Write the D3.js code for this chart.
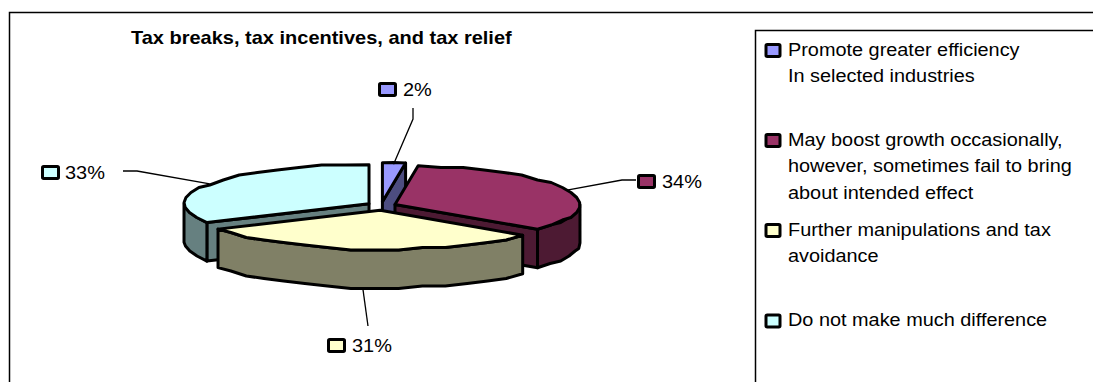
<!DOCTYPE html>
<html>
<head>
<meta charset="utf-8">
<script src="https://cdn.jsdelivr.net/npm/d3@7/dist/d3.min.js"></script>
<style>
html,body{margin:0;padding:0;background:#fff;}
svg{display:block;}
text{font-family:"Liberation Sans",Arial,sans-serif;fill:#000;}
</style>
</head>
<body>
<svg id="chart" width="1093" height="382"></svg>
<script>
// Survey shares, in percent, clockwise from twelve o'clock
const shares = [2, 34, 31, 33];
const fills = ["#9999FF", "#993366", "#FFFFCC", "#CCFFFF"];
const sideFills = ["#4D4D80", "#4D1A33", "#808066", "#668080"];
const legendLines = [
  ["Promote greater efficiency", "In selected industries"],
  ["May boost growth occasionally,", "however, sometimes fail to bring", "about intended effect"],
  ["Further manipulations and tax", "avoidance"],
  ["Do not make much difference"]
];
const chartTitle = "Tax breaks, tax incentives, and tax relief";

const width = 1093, height = 382;
const cx = 381.5, cy = 206, rx = 185, ry = 39, depth = 38.5, explode = 14.5, explodeTilt = 0.3;
const legendBaselines = [[55.5, 82], [145.5, 172, 199], [235.5, 262], [326]];
const labelLayout = [
  {sx: 378, sy: 82, tx: 403, ty: 96, elbow: [[413, 108], [413, 119]], anchorR: 0.96, anchorDy: 0},
  {sx: 637, sy: 174, tx: 662, ty: 188, elbow: [[636, 180], [622, 180]], anchorR: 1, anchorDy: 0},
  {sx: 327, sy: 338, tx: 352, ty: 352, elbow: [[368, 326]], anchorR: 1, anchorDy: depth},
  {sx: 41, sy: 165, tx: 65, ty: 179, elbow: [[123, 171], [137, 171]], anchorR: 1, anchorDy: 0}
];

const svg = d3.select("#chart");
const black = "#000";

// Outer chart frame and legend box run off the right and bottom edges
svg.append("path").attr("d", d3.line()([[9.5, height + 2], [9.5, 12.5], [width + 2, 12.5]]))
  .attr("fill", "none").attr("stroke", black).attr("stroke-width", 1.5);
svg.append("path").attr("d", d3.line()([[755.5, height + 2], [755.5, 30.5], [width + 2, 30.5]]))
  .attr("fill", "none").attr("stroke", black).attr("stroke-width", 1.5);

// Type is set a little wider than Liberation's natural width
function label(x, y, size, stretch, str, bold) {
  return svg.append("text")
    .attr("transform", `translate(${x},${y}) scale(${stretch},1)`)
    .attr("font-size", size).attr("font-weight", bold ? "bold" : "normal").text(str);
}

label(131, 44, 19, 1.052, chartTitle, true);

// Angles from the d3 pie layout; values stay in data order
const arcs = d3.pie().sort(null).value(d => d)(shares).map((a, i) => {
  const mid = (a.startAngle + a.endAngle) / 2;
  return {
    ...a, i,
    ox: cx + explode * Math.sin(mid),
    oy: cy - explode * explodeTilt * Math.cos(mid)
  };
});

const pt = (a, ang, r = 1, dy = 0) => [a.ox + rx * r * Math.sin(ang), a.oy - ry * r * Math.cos(ang) + dy];

// The rim is drawn as a coarse polyline whose rows snap to a grid, giving its stepped outline
const snap = p => [p[0], Math.round(p[1] / 2.5) * 2.5];
function rim(a, from, to, dy = 0) {
  const n = Math.max(2, Math.ceil(Math.abs(to - from) / 0.13));
  return d3.range(n + 1).map(k => {
    const p = pt(a, from + (to - from) * k / n);
    const q = (k === 0 || k === n) ? p : snap(p);
    return [q[0], q[1] + dy];
  });
}

const line = d3.line().curve(d3.curveLinear);
const strokeStyle = sel => sel.attr("stroke", black).attr("stroke-width", 3)
  .attr("stroke-linejoin", "round").attr("stroke-linecap", "round");

function poly(g, points, fill) {
  return g.append("path").attr("d", line(points) + "Z").attr("fill", fill).call(strokeStyle);
}

// Paint back to front: blue, cyan, magenta, yellow
const pieG = svg.append("g");
[0, 3, 1, 2].map(i => arcs[i]).forEach(a => {
  const g = pieG.append("g");
  const apex = [a.ox, a.oy];
  const apexLow = [a.ox, a.oy + depth];
  const side = sideFills[a.i];

  // Radial cut faces that turn toward the viewer
  if (a.startAngle > Math.PI && a.startAngle < 2 * Math.PI) {
    const c = pt(a, a.startAngle);
    poly(g, [apex, c, [c[0], c[1] + depth], apexLow], side);
  }
  if (a.endAngle < Math.PI) {
    const c = pt(a, a.endAngle);
    poly(g, [apex, c, [c[0], c[1] + depth], apexLow], side);
  }

  // Outer wall over the front half of the ellipse
  const wallFrom = Math.max(a.startAngle, Math.PI / 2);
  const wallTo = Math.min(a.endAngle, 3 * Math.PI / 2);
  if (wallTo > wallFrom) {
    const top = rim(a, wallFrom, wallTo);
    const bottom = rim(a, wallFrom, wallTo, depth).reverse();
    poly(g, top.concat(bottom), side);
  }

  // Top surface
  poly(g, [apex].concat(rim(a, a.startAngle, a.endAngle)), fills[a.i]);
});

// Percentage labels, leader lines and their colour keys
function swatch(x, y, w, i) {
  svg.append("rect").attr("x", x + 1.5).attr("y", y + 1.5).attr("width", w - 3).attr("height", 12)
    .attr("rx", 1.2).attr("fill", fills[i]).attr("stroke", black).attr("stroke-width", 3);
}

arcs.forEach(a => {
  const l = labelLayout[a.i];
  const mid = (a.startAngle + a.endAngle) / 2;
  const anchor = pt(a, mid, l.anchorR, l.anchorDy);
  svg.append("path").attr("d", line(l.elbow.concat([anchor])))
    .attr("fill", "none").attr("stroke", black).attr("stroke-width", 1.3);
  swatch(l.sx, l.sy, 19, a.i);
  label(l.tx, l.ty, 19, 1.05, d3.format(".0f")(a.value) + "%");
});

// Legend
legendLines.forEach((rows, i) => {
  swatch(764.5, legendBaselines[i][0] - 12.5, 17, i);
  rows.forEach((row, j) => label(788, legendBaselines[i][j], 18.5, 1.075, row));
});
</script>
</body>
</html>
